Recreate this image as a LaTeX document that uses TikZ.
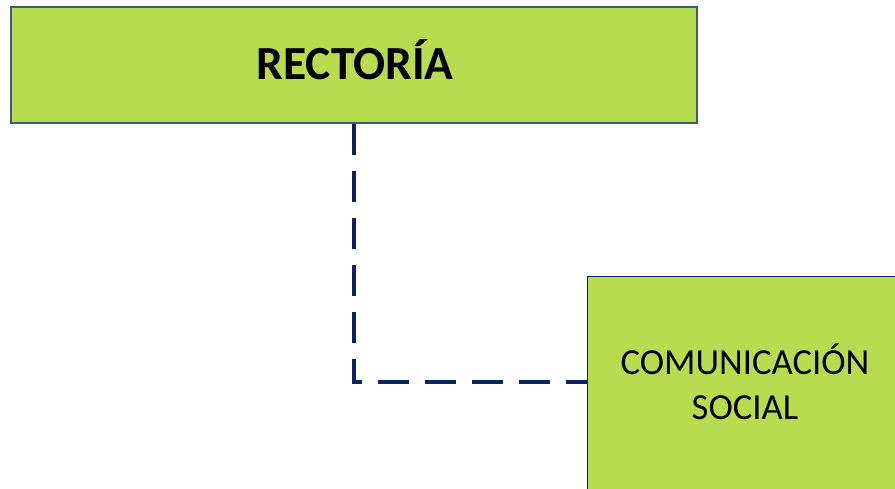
\documentclass[tikz,border=0pt]{standalone}
\usepackage{fontspec}
\setmainfont{Carlito}
\definecolor{boxgreen}{HTML}{B8DC50}
\definecolor{topborder}{HTML}{3F5A80}
\definecolor{navy}{HTML}{0B2463}
\begin{document}
\begin{tikzpicture}[x=1pt,y=-1pt,
  orgbox/.style={fill=boxgreen,draw=navy,line width=1pt,inner sep=0pt,align=center},
  conn/.style={draw=navy,line width=3.2pt,dash pattern=on 31pt off 16pt}]
\useasboundingbox (0,0) rectangle (895,489);
\clip (0,0) rectangle (895,489);
\node[orgbox,draw=topborder,line width=1.8pt,minimum width=686pt,minimum height=116pt] (rect) at (354,65) {};
\node[anchor=base,inner sep=0pt,font=\fontsize{47.5}{52}\selectfont\bfseries] (recttxt) at (355,80) {RECTORÍA};
\node[orgbox,minimum width=316pt,minimum height=270pt,anchor=north west] (com) at (587,276) {};
\node[align=center,inner sep=0pt,font=\fontsize{36.7}{45}\selectfont] (comtxt) at (745,382) {COMUNICACIÓN\\SOCIAL};
\coordinate (corner) at (354,382);
\draw[conn] (rect.south) -- (corner) -- (com.west |- corner);
\end{tikzpicture}
\end{document}
